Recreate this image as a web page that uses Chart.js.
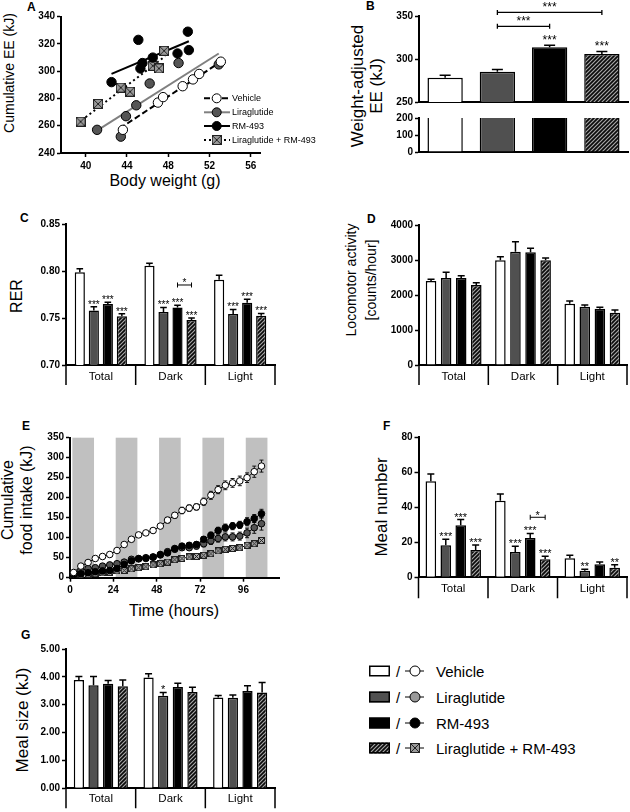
<!DOCTYPE html>
<html><head><meta charset="utf-8">
<script src="https://cdn.jsdelivr.net/npm/chart.js@4.4.0/dist/chart.umd.min.js"></script>
<style>
html,body{margin:0;padding:0;background:#fff;}
#fig{position:relative;width:630px;height:812px;overflow:hidden;background:#fff;font-family:"Liberation Sans",Arial,sans-serif;color:#000;}
canvas.c{position:absolute;}
.lt{position:absolute;font-weight:bold;font-size:12px;line-height:12px;}
.yt{position:absolute;white-space:nowrap;transform:translate(-50%,-50%) rotate(-90deg);text-align:center;}
.xt{position:absolute;white-space:nowrap;transform:translate(-50%,-50%);}
.lg{position:absolute;font-size:15px;line-height:15px;white-space:nowrap;transform:translateY(-50%);}
</style></head><body>
<div id="fig">
  <div class="lt" style="left:27px;top:1px">A</div>
  <div class="lt" style="left:366px;top:0px">B</div>
  <div class="lt" style="left:20px;top:212px">C</div>
  <div class="lt" style="left:367px;top:213px">D</div>
  <div class="lt" style="left:22px;top:420px">E</div>
  <div class="lt" style="left:383px;top:420px">F</div>
  <div class="lt" style="left:21px;top:629px">G</div>

  <div class="yt" style="left:9px;top:73px;font-size:14px">Cumulative EE (kJ)</div>
  <div class="xt" style="left:165px;top:181px;font-size:16px">Body weight (g)</div>
  <div class="yt" style="left:367px;top:86px;font-size:17px;line-height:19px">Weight-adjusted<br>EE (kJ)</div>
  <div class="yt" style="left:17px;top:296px;font-size:16px">RER</div>
  <div class="yt" style="left:361px;top:280px;font-size:14px;line-height:20px">Locomotor activity<br>[counts/hour]</div>
  <div class="yt" style="left:17px;top:500px;font-size:16px;line-height:19px">Cumulative<br>food intake (kJ)</div>
  <div class="xt" style="left:174px;top:611px;font-size:16px">Time (hours)</div>
  <div class="yt" style="left:382px;top:507px;font-size:17px">Meal number</div>
  <div class="yt" style="left:23px;top:720px;font-size:17px">Meal size (kJ)</div>

  <div class="lg" style="left:396px;top:671px">/</div>
  <div class="lg" style="left:396px;top:697px">/</div>
  <div class="lg" style="left:396px;top:723px">/</div>
  <div class="lg" style="left:396px;top:748px">/</div>
  <div class="lg" id="lg0" style="left:436px;top:671px"></div>
  <div class="lg" id="lg1" style="left:436px;top:697px"></div>
  <div class="lg" id="lg2" style="left:436px;top:723px"></div>
  <div class="lg" id="lg3" style="left:436px;top:748px"></div>
</div>
<script>
// ---------------- DATA ----------------
const groups = ['Vehicle', 'Liraglutide', 'RM-493', 'Liraglutide + RM-493'];
const periods = ['Total', 'Dark', 'Light'];

// A: body weight (g) vs cumulative EE (kJ)
const vehBW = [43.6, 47.0, 47.5, 49.4, 50.4, 51.0, 53.1];
const vehEE = [257, 277, 281, 289, 294, 298, 307];
const liraBW = [41.1, 43.4, 43.9, 44.9, 46.2, 49.0, 52.9];
const liraEE = [257, 252, 267, 275, 291, 306, 305];
const rmBW = [42.5, 45.1, 45.5, 45.3, 46.5, 48.9, 49.9, 50.0];
const rmEE = [292, 323, 306, 302, 310, 313, 329, 315.5];
const comboBW = [39.5, 41.2, 43.4, 44.3, 46.5, 47.1, 47.6];
const comboEE = [263, 276, 288, 285, 304, 302, 315];
// regression line endpoints [x1, y1, x2, y2]
const vehFit = [43.3, 258, 52.8, 305.5];
const liraFit = [41.2, 257, 52.9, 313];
const rmFit = [42.5, 298, 50.0, 322];
const comboFit = [39.6, 264, 47.7, 311];
const aXTicks = [40, 44, 48, 52, 56];

// B: weight-adjusted EE (kJ)
const eeAdj = [278.1, 285.2, 313.7, 305.8];
const eeAdjErr = [2.9, 2.7, 2.3, 3.0];

// C: RER
const rerVeh = [0.799, 0.8057, 0.791];
const rerLira = [0.758, 0.7564, 0.7543];
const rerRM = [0.765, 0.7614, 0.7664];
const rerCombo = [0.752, 0.7479, 0.7525];
const rerVehErr = [0.0035, 0.0029, 0.0047];
const rerLiraErr = [0.004, 0.005, 0.005];
const rerRMErr = [0.0018, 0.0022, 0.0036];
const rerComboErr = [0.0026, 0.0021, 0.0025];

// D: locomotor activity (counts/hour)
const locVeh = [2400, 2990, 1752];
const locLira = [2486, 3238, 1667];
const locRM = [2486, 3219, 1610];
const locCombo = [2286, 2990, 1495];
const locVehErr = [48, 105, 77];
const locLiraErr = [162, 286, 47];
const locRMErr = [66, 114, 38];
const locComboErr = [66, 67, 76];

// E: cumulative food intake (kJ)
const hours = [2, 6, 10, 14, 18, 22, 26, 30, 34, 38, 42, 46, 50, 54, 58, 62, 66, 70, 74, 78, 82, 86, 90, 94, 98, 102, 106];
const fiVeh = [13, 29, 38, 48, 53, 58, 68, 83, 96, 107, 112, 118, 129, 144, 156, 168, 174, 177, 190, 206, 220, 231, 237, 242, 250, 265, 279];
const fiLira = [8, 18, 23, 25, 29, 32, 35, 39, 46, 48, 50, 52, 58, 65, 71, 75, 75, 79, 85, 92, 98, 102, 102, 104, 112, 125, 135];
const fiRM = [6, 10, 12.5, 15, 17, 18, 23, 33, 42, 47, 48, 51, 57, 62, 73, 79, 81, 83, 96, 106, 118, 125, 129, 132, 140, 148, 160];
const fiCombo = [3, 7, 8, 10, 12, 13, 17, 18, 22, 25, 27.5, 32, 35, 39, 45, 48, 52, 53, 56, 60, 67, 71, 73, 75, 81, 85, 93];
const fiVehErr = [3, 4, 4, 4, 4, 4, 5, 5, 5, 5, 6, 6, 6, 7, 7, 8, 8, 8, 9, 10, 10, 11, 11, 12, 12, 14, 15];
const fiLiraErr = [2, 3, 3, 3, 3, 3, 4, 4, 4, 4, 5, 5, 5, 6, 6, 7, 7, 7, 8, 9, 9, 10, 10, 10, 12, 14, 16];
const fiRMErr = [2, 2, 2, 2, 3, 3, 3, 3, 4, 4, 4, 4, 5, 5, 5, 6, 6, 7, 7, 8, 8, 9, 9, 9, 10, 10, 11];
const fiComboErr = [1, 2, 2, 2, 2, 2, 2, 3, 3, 3, 3, 3, 3, 3, 4, 4, 4, 4, 4, 4, 5, 5, 5, 5, 5, 5, 6];
const darkStart = [1.3, 25.3, 49.3, 73.3, 97.3];
const darkEnd = [13.3, 37.3, 61.3, 85.3, 109.3];
const eXTicks = [0, 24, 48, 72, 96];

// F: meal number
const mealVeh = [54.9, 43.8, 10.9];
const mealLira = [18.3, 14.5, 3.8];
const mealRM = [29.7, 22.5, 7.4];
const mealCombo = [15.6, 10.3, 5.5];
const mealVehErr = [4.1, 3.8, 1.7];
const mealLiraErr = [3.4, 3.2, 0.8];
const mealRMErr = [3.3, 2.6, 1.4];
const mealComboErr = [2.9, 1.7, 1.7];

// G: meal size (kJ)
const sizeVeh = [3.89, 3.98, 3.26];
const sizeLira = [3.70, 3.32, 3.25];
const sizeRM = [3.75, 3.64, 3.49];
const sizeCombo = [3.66, 3.46, 3.44];
const sizeVehErr = [0.12, 0.13, 0.07];
const sizeLiraErr = [0.31, 0.12, 0.10];
const sizeRMErr = [0.12, 0.13, 0.19];
const sizeComboErr = [0.23, 0.17, 0.36];

// significance labels
const rerStars = [['', '', ''], ['***', '***', '***'], ['***', '***', '***'], ['***', '***', '***']];
const mealStars = [['', '', ''], ['***', '***', '**'], ['***', '***', ''], ['***', '***', '**']];
const sizeStars = [['', '', ''], ['', '*', ''], ['', '', ''], ['', '', '']];
const eeStars = [['', '', '***', '***']];

// ---------------- STYLE / HELPERS ----------------
Chart.defaults.font.family = '"Liberation Sans", Arial, sans-serif';
Chart.defaults.color = '#000';
const FONT = '"Liberation Sans", Arial, sans-serif';
const fig = document.getElementById('fig');
groups.forEach((g, i) => document.getElementById('lg' + i).textContent = g);

function makeHatch() {
  const c = document.createElement('canvas'); c.width = 4; c.height = 4;
  const g = c.getContext('2d');
  g.fillStyle = '#0a0a0a'; g.fillRect(0, 0, 4, 4);
  g.strokeStyle = '#a5a5a5'; g.lineWidth = 1.2;
  g.beginPath();
  g.moveTo(-1, 5); g.lineTo(5, -1);
  g.moveTo(-1, 1); g.lineTo(1, -1);
  g.moveTo(3, 5); g.lineTo(5, 3);
  g.stroke();
  return g.createPattern(c, 'repeat');
}
const hatch = makeHatch();
const barFills = ['#ffffff', '#505050', '#000000', hatch];

function crossBox(s, fill) {
  const c = document.createElement('canvas'); c.width = s; c.height = s;
  const g = c.getContext('2d');
  g.fillStyle = fill; g.fillRect(0, 0, s, s);
  g.strokeStyle = '#222'; g.lineWidth = 1;
  g.strokeRect(0.5, 0.5, s - 1, s - 1);
  g.beginPath(); g.moveTo(1, 1); g.lineTo(s - 1, s - 1); g.moveTo(s - 1, 1); g.lineTo(1, s - 1); g.stroke();
  return c;
}

function mk(box) {
  const c = document.createElement('canvas');
  c.width = box[2]; c.height = box[3]; c.className = 'c';
  c.style.left = box[0] + 'px'; c.style.top = box[1] + 'px';
  c.style.width = box[2] + 'px'; c.style.height = box[3] + 'px';
  fig.appendChild(c); return c;
}
function pads(box, area) {
  return { L: area[0] - box[0], T: area[1] - box[1], R: box[0] + box[2] - area[2], B: box[1] + box[3] - area[3] };
}
function yLin(min, max, step, fmt, width, show) {
  return {
    type: 'linear', min, max,
    ticks: { display: show !== false, stepSize: step, font: { size: 10, weight: 'bold' }, padding: 2, autoSkip: false, callback: v => fmt(v) },
    grid: { display: true, drawOnChartArea: false, drawTicks: true, tickLength: 4, tickWidth: 1.5, color: '#000' },
    border: { display: true, color: '#000', width: 2 },
    afterFit(s) { s.width = width; }
  };
}
function xCat(height, pad, size, show) {
  return {
    type: 'category', offset: true,
    grid: { display: false, drawTicks: false },
    border: { display: true, color: '#000', width: 2 },
    ticks: { display: show, font: { size: size }, padding: pad, maxRotation: 0, autoSkip: false },
    afterFit(s) { s.height = height; }
  };
}

function barExtras(o) {
  return {
    id: 'barExtras',
    afterDatasetsDraw(chart) {
      const ctx = chart.ctx, ys = chart.scales.y, a = chart.chartArea;
      ctx.save();
      ctx.strokeStyle = '#000'; ctx.fillStyle = '#000';
      if (o.errors) {
        o.errors.forEach((errs, di) => {
          const meta = chart.getDatasetMeta(di);
          const vals = chart.data.datasets[di].data;
          meta.data.forEach((el, i) => {
            const top = ys.getPixelForValue(vals[i] + errs[i]);
            ctx.lineWidth = o.errW || 1.5;
            ctx.beginPath(); ctx.moveTo(el.x, el.y); ctx.lineTo(el.x, top);
            ctx.moveTo(el.x - o.cap, top); ctx.lineTo(el.x + o.cap, top); ctx.stroke();
            const s = o.stars && o.stars[di] && o.stars[di][i];
            if (s) {
              ctx.font = o.starFont; ctx.textAlign = 'center'; ctx.textBaseline = 'alphabetic';
              ctx.fillText(s, el.x, top + o.starOff);
            }
          });
        });
      }
      (o.brackets || []).forEach(b => {
        const x1 = chart.getDatasetMeta(b.ds1).data[b.i1].x;
        const x2 = chart.getDatasetMeta(b.ds2).data[b.i2].x;
        const y = ys.getPixelForValue(b.y);
        ctx.lineWidth = b.w || 1;
        ctx.beginPath();
        ctx.moveTo(x1, y); ctx.lineTo(x2, y);
        ctx.moveTo(x1, y - b.t); ctx.lineTo(x1, y + b.t);
        ctx.moveTo(x2, y - b.t); ctx.lineTo(x2, y + b.t);
        ctx.stroke();
        ctx.font = b.font; ctx.textAlign = 'center'; ctx.textBaseline = 'alphabetic';
        ctx.fillText(b.text, (x1 + x2) / 2, y + b.off);
      });
      if (o.sep) {
        const n = chart.data.labels.length;
        ctx.lineWidth = 1.5;
        ctx.beginPath();
        for (let k = 0; k <= n; k++) {
          const x = a.left + (a.right - a.left) * k / n;
          ctx.moveTo(x, a.bottom); ctx.lineTo(x, a.bottom + o.sep);
        }
        ctx.stroke();
      }
      ctx.restore();
    }
  };
}

function barChart(o) {
  const c = mk(o.box); const p = pads(o.box, o.area);
  const datasets = o.series.map((d, k) => ({
    data: d, backgroundColor: o.colors ? o.colors : barFills[k], borderColor: '#000',
    borderWidth: o.bw || 1.5, borderSkipped: 'start', categoryPercentage: o.cp, barPercentage: o.bp, clip: 0
  }));
  return new Chart(c, {
    type: 'bar', data: { labels: o.labels, datasets },
    options: {
      responsive: false, animation: false, events: [],
      layout: { padding: { top: p.T, right: p.R, left: 0, bottom: 0 } },
      plugins: { legend: { display: false }, tooltip: { enabled: false } },
      scales: {
        x: xCat(p.B, o.labPad || 5, o.labSize || 11.5, o.showLabels !== false),
        y: yLin(o.yMin, o.yMax, o.yStep, o.fmt, p.L)
      }
    },
    plugins: [barExtras(o)]
  });
}

function drawMarker(ctx, kind, x, y, r, grayFill, boxImg) {
  if (kind === 3) { ctx.drawImage(boxImg, x - boxImg.width / 2, y - boxImg.height / 2); return; }
  ctx.beginPath(); ctx.arc(x, y, r, 0, Math.PI * 2);
  ctx.fillStyle = kind === 0 ? '#fff' : kind === 1 ? grayFill : '#000';
  ctx.fill(); ctx.lineWidth = 1; ctx.strokeStyle = '#000'; ctx.stroke();
}

// ---------------- PANEL A ----------------
const zip = (xs, ys) => xs.map((x, i) => ({ x, y: ys[i] }));
const boxA = crossBox(10, '#9a9a9a');
const lineStyles = [
  { color: '#000', dash: [6, 3] }, { color: '#808080', dash: [] },
  { color: '#000', dash: [] }, { color: '#000', dash: [2, 3] }
];
(function () {
  const box = [0, 0, 335, 200], area = [61, 16.7, 260, 153];
  const p = pads(box, area);
  const pt = (d, fill, style) => ({ data: d, showLine: false, pointStyle: style || 'circle', pointRadius: 4.7, pointBackgroundColor: fill, pointBorderColor: '#000', pointBorderWidth: 1 });
  const ln = (f, k) => ({ data: [{ x: f[0], y: f[1] }, { x: f[2], y: f[3] }], showLine: true, pointRadius: 0, borderColor: lineStyles[k].color, borderDash: lineStyles[k].dash, borderWidth: 2 });
  const legendA = {
    id: 'legendA',
    afterDraw(chart) {
      const ctx = chart.ctx; const ys = [98.3, 112.3, 126, 140];
      ctx.save();
      groups.forEach((g, k) => {
        const y = ys[k];
        ctx.strokeStyle = lineStyles[k].color; ctx.lineWidth = 2; ctx.setLineDash(lineStyles[k].dash);
        ctx.beginPath(); ctx.moveTo(204, y); ctx.lineTo(230, y); ctx.stroke();
        ctx.setLineDash([]);
        drawMarker(ctx, k, 216.7, y, 4.5, '#555', boxA);
        ctx.fillStyle = '#000'; ctx.font = '9px ' + FONT; ctx.textAlign = 'left'; ctx.textBaseline = 'middle';
        ctx.fillText(g, 232, y + 0.5);
      });
      ctx.restore();
    }
  };
  new Chart(mk(box), {
    type: 'scatter',
    data: {
      datasets: [
        pt(zip(vehBW, vehEE), '#fff'), pt(zip(liraBW, liraEE), '#555'), pt(zip(rmBW, rmEE), '#000'),
        pt(zip(comboBW, comboEE), '#9a9a9a', boxA),
        ln(vehFit, 0), ln(liraFit, 1), ln(rmFit, 2), ln(comboFit, 3)
      ]
    },
    options: {
      responsive: false, animation: false, events: [],
      layout: { padding: { top: p.T, right: p.R, left: 0, bottom: 0 } },
      plugins: { legend: { display: false }, tooltip: { enabled: false } },
      scales: {
        x: {
          type: 'linear', min: 37.6, max: 56.9,
          afterBuildTicks(s) { s.ticks = aXTicks.map(v => ({ value: v })); },
          ticks: { font: { size: 10, weight: 'bold' }, padding: 3, autoSkip: false },
          grid: { display: true, drawOnChartArea: false, drawTicks: true, tickLength: 4, tickWidth: 1.5, color: '#000' },
          border: { display: true, color: '#000', width: 2 },
          afterFit(s) { s.height = p.B; }
        },
        y: yLin(240, 340, 20, v => v, p.L)
      }
    },
    plugins: [legendA]
  });
})();

// ---------------- PANEL B (broken axis: two charts) ----------------
barChart({
  box: [320, 0, 310, 110], area: [419, 16, 628, 105], labels: groups, series: [eeAdj], colors: barFills,
  cp: 1, bp: 0.676, yMin: 250, yMax: 350, yStep: 50, fmt: v => v, showLabels: false,
  errors: [eeAdjErr], cap: 5.5, stars: eeStars, starFont: '12px ' + FONT, starOff: -1,
  brackets: [
    { ds1: 0, i1: 1, ds2: 0, i2: 3, y: 354.2, t: 2.5, w: 1.3, text: '***', font: '12px ' + FONT, off: -1 },
    { ds1: 0, i1: 1, ds2: 0, i2: 2, y: 338, t: 2.5, w: 1.3, text: '***', font: '12px ' + FONT, off: -1 }
  ]
});
barChart({
  box: [320, 110, 310, 50], area: [419, 117, 628, 156], labels: groups, series: [eeAdj], colors: barFills,
  cp: 1, bp: 0.676, yMin: 0, yMax: 200, yStep: 100, fmt: v => v, showLabels: false
});

// ---------------- PANEL C ----------------
barChart({
  box: [0, 205, 320, 200], area: [66, 224.3, 275, 365], labels: periods,
  series: [rerVeh, rerLira, rerRM, rerCombo], cp: 0.805, bp: 0.725,
  yMin: 0.70, yMax: 0.85, yStep: 0.05, fmt: v => v.toFixed(2),
  errors: [rerVehErr, rerLiraErr, rerRMErr, rerComboErr], cap: 3.3,
  stars: rerStars, starFont: '10px ' + FONT, starOff: 1, sep: 20, labPad: 5,
  brackets: [{ ds1: 2, i1: 1, ds2: 3, i2: 1, y: 0.7853, t: 2.5, w: 1, text: '*', font: '10px ' + FONT, off: 1.5 }]
});

// ---------------- PANEL D ----------------
barChart({
  box: [320, 205, 310, 200], area: [419, 225, 627, 365], labels: periods,
  series: [locVeh, locLira, locRM, locCombo], cp: 0.87, bp: 0.70,
  yMin: 0, yMax: 4000, yStep: 1000, fmt: v => v,
  errors: [locVehErr, locLiraErr, locRMErr, locComboErr], cap: 3.5, sep: 20, labPad: 5
});

// ---------------- PANEL E ----------------
(function () {
  const box = [0, 415, 320, 200], area = [70, 437.7, 279, 577.7];
  const p = pads(box, area);
  const boxE = crossBox(7, '#ababab');
  const series = [
    { v: fiVeh, e: fiVehErr, fill: '#fff' },
    { v: fiRM, e: fiRMErr, fill: '#000' },
    { v: fiLira, e: fiLiraErr, fill: '#555' },
    { v: fiCombo, e: fiComboErr, fill: '#ababab', style: boxE }
  ];
  const ePlug = {
    id: 'eExtras',
    beforeDraw(chart) {
      const { ctx, chartArea: a, scales: { x } } = chart;
      ctx.save(); ctx.fillStyle = '#c0c0c0';
      darkStart.forEach((s, k) => {
        const x1 = x.getPixelForValue(s), x2 = x.getPixelForValue(darkEnd[k]);
        ctx.fillRect(x1, a.top, x2 - x1, a.bottom - a.top);
      });
      ctx.restore();
    },
    beforeDatasetsDraw(chart) {
      const { ctx, scales: { x, y } } = chart;
      ctx.save(); ctx.strokeStyle = '#000'; ctx.lineWidth = 0.9;
      series.forEach(s => {
        hours.forEach((h, i) => {
          const px = x.getPixelForValue(h), y1 = y.getPixelForValue(s.v[i] + s.e[i]), y2 = y.getPixelForValue(s.v[i] - s.e[i]);
          ctx.beginPath(); ctx.moveTo(px, y1); ctx.lineTo(px, y2);
          ctx.moveTo(px - 2, y1); ctx.lineTo(px + 2, y1);
          ctx.moveTo(px - 2, y2); ctx.lineTo(px + 2, y2); ctx.stroke();
        });
      });
      ctx.restore();
    }
  };
  new Chart(mk(box), {
    type: 'line',
    data: {
      datasets: series.map(s => ({
        data: zip(hours, s.v), borderColor: '#000', borderWidth: 1, pointStyle: s.style || 'circle',
        pointRadius: 3.3, pointBackgroundColor: s.fill, pointBorderColor: '#000', pointBorderWidth: 1, tension: 0
      }))
    },
    options: {
      responsive: false, animation: false, events: [],
      layout: { padding: { top: p.T, right: p.R, left: 0, bottom: 0 } },
      plugins: { legend: { display: false }, tooltip: { enabled: false } },
      scales: {
        x: {
          type: 'linear', min: 0, max: 115.7,
          afterBuildTicks(s) { s.ticks = eXTicks.map(v => ({ value: v })); },
          ticks: { font: { size: 10, weight: 'bold' }, padding: 3, autoSkip: false },
          grid: { display: true, drawOnChartArea: false, drawTicks: true, tickLength: 4, tickWidth: 1.5, color: '#000' },
          border: { display: true, color: '#000', width: 2 },
          afterFit(s) { s.height = p.B; }
        },
        y: yLin(0, 350, 50, v => v, p.L)
      }
    },
    plugins: [ePlug]
  });
})();

// ---------------- PANEL F ----------------
barChart({
  box: [320, 415, 310, 200], area: [418.5, 437.3, 627, 577.3], labels: periods,
  series: [mealVeh, mealLira, mealRM, mealCombo], cp: 0.86, bp: 0.71,
  yMin: 0, yMax: 80, yStep: 20, fmt: v => v,
  errors: [mealVehErr, mealLiraErr, mealRMErr, mealComboErr], cap: 3.5,
  stars: mealStars, starFont: '11px ' + FONT, starOff: 1, sep: 21, labPad: 5,
  brackets: [{ ds1: 2, i1: 1, ds2: 3, i2: 1, y: 34.3, t: 2.5, w: 1, text: '*', font: '11px ' + FONT, off: 1.5 }]
});

// ---------------- PANEL G ----------------
barChart({
  box: [0, 630, 320, 182], area: [66, 649, 275, 788.3], labels: periods,
  series: [sizeVeh, sizeLira, sizeRM, sizeCombo], cp: 0.84, bp: 0.70,
  yMin: 0, yMax: 5, yStep: 1, fmt: v => v.toFixed(2),
  errors: [sizeVehErr, sizeLiraErr, sizeRMErr, sizeComboErr], cap: 3.5,
  stars: sizeStars, starFont: '11px ' + FONT, starOff: 1, sep: 20, labPad: 4
});

// ---------------- BOTTOM LEGEND SYMBOLS ----------------
(function () {
  const c = mk([360, 655, 75, 105]);
  const ctx = c.getContext('2d');
  const ys = [16, 42, 68, 93];
  const boxL = crossBox(10, '#9a9a9a');
  ys.forEach((y, k) => {
    ctx.fillStyle = barFills[k];
    ctx.fillRect(9, y - 5.5, 21, 11);
    ctx.lineWidth = 1.5; ctx.strokeStyle = '#000';
    ctx.strokeRect(9.75, y - 4.75, 19.5, 9.5);
    ctx.lineWidth = 1; ctx.beginPath(); ctx.moveTo(45, y); ctx.lineTo(64, y); ctx.stroke();
    drawMarker(ctx, k, 55, y, 5, '#999', boxL);
  });
})();
</script>
</body></html>
